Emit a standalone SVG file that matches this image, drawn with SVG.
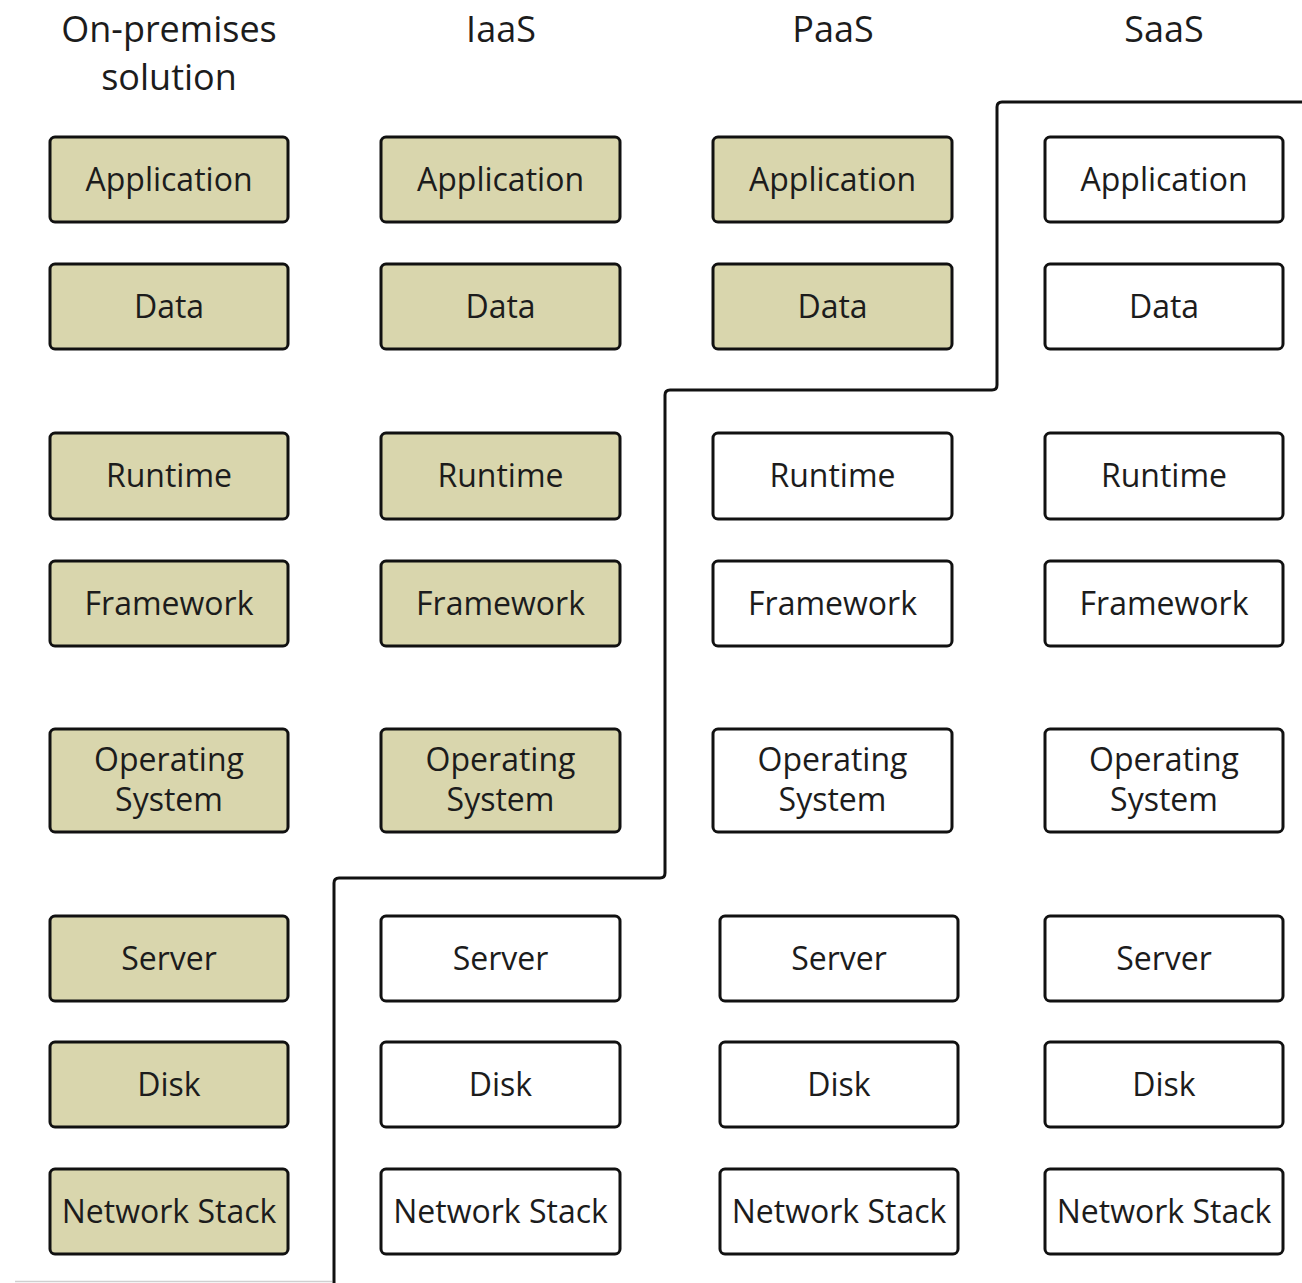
<svg xmlns="http://www.w3.org/2000/svg" width="1302" height="1283" viewBox="0 0 1302 1283">
<style>
.box{stroke:#111;stroke-width:3;rx:5;ry:5}
.own{fill:#d9d6ad}
.mgd{fill:#ffffff}
.t{font-family:"Open Sans","Noto Sans","Liberation Sans",sans-serif;font-size:32px;fill:#1c1c1c;text-anchor:middle}
.h{font-family:"Open Sans","Noto Sans","Liberation Sans",sans-serif;font-size:36px;fill:#1c1c1c;text-anchor:middle}
.ln{fill:none;stroke:#111;stroke-width:3;stroke-linejoin:round}
</style>
<rect width="1302" height="1283" fill="#ffffff"/>
<g id="headers">
<text class="h" x="169" y="42">On-premises</text>
<text class="h" x="169" y="90">solution</text>
<text class="h" x="501" y="42">IaaS</text>
<text class="h" x="833" y="42">PaaS</text>
<text class="h" x="1164" y="42">SaaS</text>
</g>
<g id="connectors">
<path class="ln" d="M334,1283 V883 Q334,878 339,878 H660 Q665,878 665,873 V395 Q665,390 670,390 H992 Q997,390 997,385 V107 Q997,102 1002,102 H1302"/>
<line x1="15" y1="1281.5" x2="332" y2="1281.5" stroke="#d0d0d0" stroke-width="1.5"/>
</g>
<g id="onprem">
<g id="op-app"><rect class="box own" x="50" y="137" width="238" height="85"/><text class="t" x="169" y="191">Application</text></g>
<g id="op-data"><rect class="box own" x="50" y="264" width="238" height="85"/><text class="t" x="169" y="318">Data</text></g>
<g id="op-runtime"><rect class="box own" x="50" y="433" width="238" height="86"/><text class="t" x="169" y="487">Runtime</text></g>
<g id="op-framework"><rect class="box own" x="50" y="561" width="238" height="85"/><text class="t" x="169" y="615">Framework</text></g>
<g id="op-os"><rect class="box own" x="50" y="729" width="238" height="103"/><text class="t" x="169" y="771">Operating</text><text class="t" x="169" y="811">System</text></g>
<g id="op-server"><rect class="box own" x="50" y="916" width="238" height="85"/><text class="t" x="169" y="970">Server</text></g>
<g id="op-disk"><rect class="box own" x="50" y="1042" width="238" height="85"/><text class="t" x="169" y="1096">Disk</text></g>
<g id="op-net"><rect class="box own" x="50" y="1169" width="238" height="85"/><text class="t" x="169" y="1223">Network Stack</text></g>
</g>
<g id="iaas">
<g id="ia-app"><rect class="box own" x="381" y="137" width="239" height="85"/><text class="t" x="500.5" y="191">Application</text></g>
<g id="ia-data"><rect class="box own" x="381" y="264" width="239" height="85"/><text class="t" x="500.5" y="318">Data</text></g>
<g id="ia-runtime"><rect class="box own" x="381" y="433" width="239" height="86"/><text class="t" x="500.5" y="487">Runtime</text></g>
<g id="ia-framework"><rect class="box own" x="381" y="561" width="239" height="85"/><text class="t" x="500.5" y="615">Framework</text></g>
<g id="ia-os"><rect class="box own" x="381" y="729" width="239" height="103"/><text class="t" x="500.5" y="771">Operating</text><text class="t" x="500.5" y="811">System</text></g>
<g id="ia-server"><rect class="box mgd" x="381" y="916" width="239" height="85"/><text class="t" x="500.5" y="970">Server</text></g>
<g id="ia-disk"><rect class="box mgd" x="381" y="1042" width="239" height="85"/><text class="t" x="500.5" y="1096">Disk</text></g>
<g id="ia-net"><rect class="box mgd" x="381" y="1169" width="239" height="85"/><text class="t" x="500.5" y="1223">Network Stack</text></g>
</g>
<g id="paas">
<g id="pa-app"><rect class="box own" x="713" y="137" width="239" height="85"/><text class="t" x="832.5" y="191">Application</text></g>
<g id="pa-data"><rect class="box own" x="713" y="264" width="239" height="85"/><text class="t" x="832.5" y="318">Data</text></g>
<g id="pa-runtime"><rect class="box mgd" x="713" y="433" width="239" height="86"/><text class="t" x="832.5" y="487">Runtime</text></g>
<g id="pa-framework"><rect class="box mgd" x="713" y="561" width="239" height="85"/><text class="t" x="832.5" y="615">Framework</text></g>
<g id="pa-os"><rect class="box mgd" x="713" y="729" width="239" height="103"/><text class="t" x="832.5" y="771">Operating</text><text class="t" x="832.5" y="811">System</text></g>
<g id="pa-server"><rect class="box mgd" x="720" y="916" width="238" height="85"/><text class="t" x="839" y="970">Server</text></g>
<g id="pa-disk"><rect class="box mgd" x="720" y="1042" width="238" height="85"/><text class="t" x="839" y="1096">Disk</text></g>
<g id="pa-net"><rect class="box mgd" x="720" y="1169" width="238" height="85"/><text class="t" x="839" y="1223">Network Stack</text></g>
</g>
<g id="saas">
<g id="sa-app"><rect class="box mgd" x="1045" y="137" width="238" height="85"/><text class="t" x="1164" y="191">Application</text></g>
<g id="sa-data"><rect class="box mgd" x="1045" y="264" width="238" height="85"/><text class="t" x="1164" y="318">Data</text></g>
<g id="sa-runtime"><rect class="box mgd" x="1045" y="433" width="238" height="86"/><text class="t" x="1164" y="487">Runtime</text></g>
<g id="sa-framework"><rect class="box mgd" x="1045" y="561" width="238" height="85"/><text class="t" x="1164" y="615">Framework</text></g>
<g id="sa-os"><rect class="box mgd" x="1045" y="729" width="238" height="103"/><text class="t" x="1164" y="771">Operating</text><text class="t" x="1164" y="811">System</text></g>
<g id="sa-server"><rect class="box mgd" x="1045" y="916" width="238" height="85"/><text class="t" x="1164" y="970">Server</text></g>
<g id="sa-disk"><rect class="box mgd" x="1045" y="1042" width="238" height="85"/><text class="t" x="1164" y="1096">Disk</text></g>
<g id="sa-net"><rect class="box mgd" x="1045" y="1169" width="238" height="85"/><text class="t" x="1164" y="1223">Network Stack</text></g>
</g>
</svg>
